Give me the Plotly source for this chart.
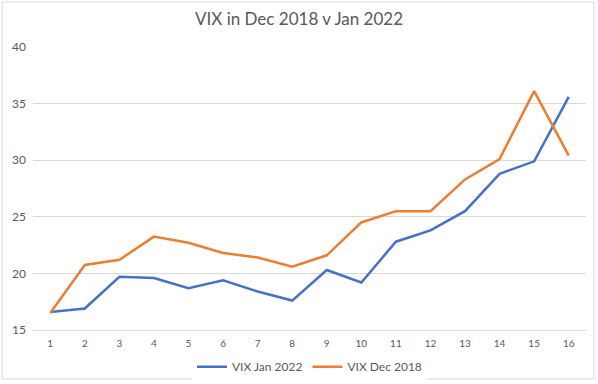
import plotly.graph_objects as go

days = list(range(1, 17))
vix_jan_2022 = [16.6, 16.9, 19.7, 19.6, 18.7, 19.4, 18.4, 17.6, 20.3, 19.2, 22.8, 23.8, 25.5, 28.8, 29.9, 35.6]
vix_dec_2018 = [16.5, 20.75, 21.2, 23.25, 22.7, 21.8, 21.4, 20.6, 21.6, 24.5, 25.5, 25.5, 28.3, 30.1, 36.1, 30.4]
y_ticks = [15, 20, 25, 30, 35, 40]

FONT = "Lato, 'Open Sans', sans-serif"
GREY = "#595959"

fig = go.Figure()
fig.add_trace(go.Scatter(x=days, y=vix_jan_2022, mode="lines", name="VIX Jan 2022",
                         line=dict(color="#4472C4", width=2.5)))
fig.add_trace(go.Scatter(x=days, y=vix_dec_2018, mode="lines", name="VIX Dec 2018",
                         line=dict(color="#ED7D31", width=2.5)))

fig.update_layout(
    width=598, height=384,
    margin=dict(l=33, r=12, t=47, b=54, autoexpand=False),
    paper_bgcolor="white", plot_bgcolor="white",
    font=dict(family=FONT, color=GREY),
    title=dict(text="VIX in Dec 2018 v Jan 2022", x=0.5, xanchor="center", y=0.95, yanchor="middle",
               font=dict(size=17, color=GREY, family=FONT)),
    xaxis=dict(range=[0.5, 16.5], tickmode="array", tickvals=days, ticktext=[str(d) for d in days],
               showgrid=False, zeroline=False, showline=True, linecolor="#d9d9d9", linewidth=1,
               tickfont=dict(size=10, color=GREY), ticks="", ticklabelstandoff=4, automargin=False),
    yaxis=dict(range=[15, 40], tickmode="array", tickvals=y_ticks, showgrid=True, gridcolor="#d9d9d9",
               gridwidth=1, zeroline=False, showline=False, tickfont=dict(size=12, color=GREY), ticks="",
               ticklabelstandoff=6, automargin=False),
    showlegend=True,
    legend=dict(orientation="h", x=0.5, xanchor="center", yref="container", y=0.045, yanchor="middle",
                font=dict(size=12, color=GREY), itemwidth=30),
    shapes=[dict(type="rect", xref="paper", yref="paper", x0=-0.056, x1=1.0145, y0=-0.173, y1=1.159,
                 line=dict(color="#d9d9d9", width=1))],
)

fig.write_html("out.html", config={"displayModeBar": False},
               post_script="document.body.style.margin='0';document.body.style.padding='0';")
